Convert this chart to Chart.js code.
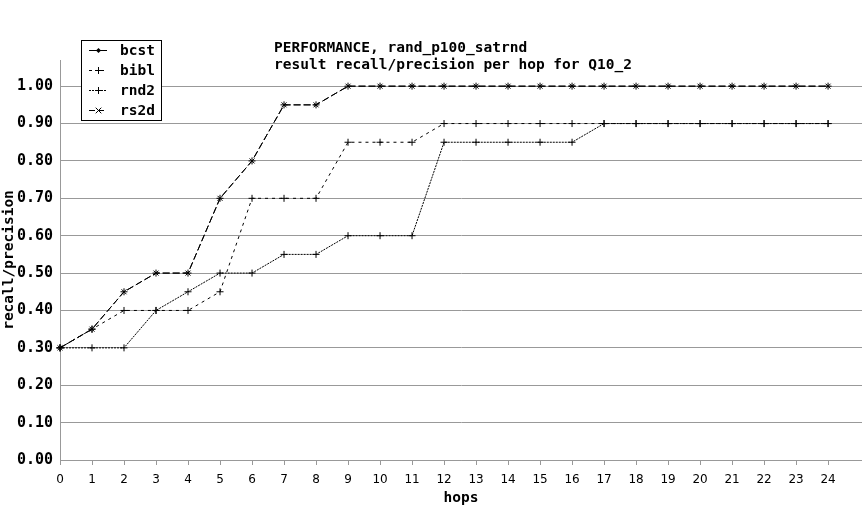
<!DOCTYPE html>
<html><head><meta charset="utf-8">
<script src="https://cdn.jsdelivr.net/npm/chart.js@4"></script>
<style>html,body{margin:0;padding:0;background:#fff}canvas{display:block}</style>
</head><body>
<canvas id="c" width="862" height="520"></canvas>
<script>
// ---- data ----
const hops = [0,1,2,3,4,5,6,7,8,9,10,11,12,13,14,15,16,17,18,19,20,21,22,23,24];
const bcst = [0.30,0.35,0.45,0.50,0.50,0.70,0.80,0.95,0.95,1.00,1.00,1.00,1.00,1.00,1.00,1.00,1.00,1.00,1.00,1.00,1.00,1.00,1.00,1.00,1.00];
const bibl = [0.30,0.35,0.40,0.40,0.40,0.45,0.70,0.70,0.70,0.85,0.85,0.85,0.90,0.90,0.90,0.90,0.90,0.90,0.90,0.90,0.90,0.90,0.90,0.90,0.90];
const rnd2 = [0.30,0.30,0.30,0.40,0.45,0.50,0.50,0.55,0.55,0.60,0.60,0.60,0.85,0.85,0.85,0.85,0.85,0.90,0.90,0.90,0.90,0.90,0.90,0.90,0.90];
const rs2d = [0.30,0.35,0.45,0.50,0.50,0.70,0.80,0.95,0.95,1.00,1.00,1.00,1.00,1.00,1.00,1.00,1.00,1.00,1.00,1.00,1.00,1.00,1.00,1.00,1.00];
const seriesNames = ['bcst','bibl','rnd2','rs2d'];
const xTickLabels = ['0','1','2','3','4','5','6','7','8','9','10','11','12','13','14','15','16','17','18','19','20','21','22','23','24'];
const yTickLabels = ['0.00','0.10','0.20','0.30','0.40','0.50','0.60','0.70','0.80','0.90','1.00'];
const titleLines = ['PERFORMANCE, rand_p100_satrnd','result recall/precision per hop for Q10_2'];
const xTitle = 'hops';
const yTitle = 'recall/precision';

// ---- styles ----
const MONO = '"DejaVu Sans Mono", monospace';
const SANS = '"DejaVu Sans", sans-serif';
const GRID = '#999999';
const seriesValues = [bcst, bibl, rnd2, rs2d];
const plotDash = [[7,3],[3,4],[2,1],[7,3]];
const plotMarker = ['cross','cross','cross','crossRot'];
const legendDash = [[],[3,3],[2,1],[6,3]];
const legendMarker = ['diamond','cross','cross','crossRot'];

const datasets = seriesNames.map((name, k) => ({
  label: name,
  data: hops.map((h, i) => ({x: h, y: seriesValues[k][i]})),
  borderColor: '#000',
  borderWidth: 1,
  borderDash: plotDash[k],
  pointStyle: plotMarker[k],
  pointRadius: 3.5,
  pointBorderColor: '#000',
  pointBackgroundColor: '#000',
  pointBorderWidth: 1,
  tension: 0,
  fill: false,
  clip: false
}));

const bgPlugin = {
  id: 'bg',
  beforeDraw(chart) {
    const ctx = chart.ctx;
    ctx.save(); ctx.fillStyle = '#fff'; ctx.fillRect(0, 0, chart.width, chart.height); ctx.restore();
  }
};

function drawMarker(ctx, type, x, y) {
  ctx.beginPath();
  if (type === 'diamond') {
    const r = 2.5;
    ctx.moveTo(x, y - r); ctx.lineTo(x + r, y); ctx.lineTo(x, y + r); ctx.lineTo(x - r, y); ctx.closePath();
    ctx.fill(); return;
  }
  const r = 3.5;
  if (type === 'cross') {
    ctx.moveTo(x - r, y); ctx.lineTo(x + r, y); ctx.moveTo(x, y - r); ctx.lineTo(x, y + r);
  } else {
    const d = r * 0.8;
    ctx.moveTo(x - d, y - d); ctx.lineTo(x + d, y + d); ctx.moveTo(x - d, y + d); ctx.lineTo(x + d, y - d);
  }
  ctx.stroke();
}

const annotPlugin = {
  id: 'annot',
  afterDraw(chart) {
    const ctx = chart.ctx;
    ctx.save();
    // title block
    ctx.fillStyle = '#000';
    ctx.font = 'bold 14.5px ' + MONO;
    ctx.textBaseline = 'alphabetic';
    ctx.textAlign = 'left';
    titleLines.forEach((t, i) => ctx.fillText(t, 274, 52 + 17 * i));
    // legend box
    const bx = 81, by = 40, bw = 80, bh = 80;
    ctx.fillStyle = '#fff';
    ctx.fillRect(bx, by, bw, bh);
    ctx.strokeStyle = '#000';
    ctx.lineWidth = 1;
    ctx.strokeRect(bx + 0.5, by + 0.5, bw, bh);
    ctx.font = 'bold 14.5px ' + MONO;
    ctx.textBaseline = 'middle';
    seriesNames.forEach((name, i) => {
      const cy = by + 10.5 + 20 * i;
      ctx.strokeStyle = '#000';
      ctx.fillStyle = '#000';
      ctx.setLineDash(legendDash[i]);
      ctx.beginPath(); ctx.moveTo(89, cy); ctx.lineTo(107, cy); ctx.stroke();
      ctx.setLineDash([]);
      drawMarker(ctx, legendMarker[i], 98.5, cy);
      ctx.fillText(name, 120, cy + 1);
    });
    ctx.restore();
  }
};

new Chart(document.getElementById('c'), {
  type: 'line',
  data: { datasets },
  options: {
    responsive: false,
    animation: false,
    events: [],
    layout: { autoPadding: false, padding: { top: 60, left: 0, right: 0, bottom: 0 } },
    plugins: { legend: { display: false }, title: { display: false }, tooltip: { enabled: false } },
    scales: {
      x: {
        type: 'linear', min: 0, max: 25.06,
        afterFit: s => { s.height = 60; s.paddingLeft = 0; s.paddingRight = 0; },
        afterBuildTicks: s => { s.ticks = s.ticks.filter(t => Number.isInteger(t.value) && t.value <= 24); },
        grid: { drawOnChartArea: false, drawTicks: true, tickLength: 5, color: GRID, lineWidth: 1 },
        border: { display: true, color: GRID, width: 1 },
        ticks: { stepSize: 1, autoSkip: false, maxRotation: 0, minRotation: 0, padding: 8, color: '#000',
                 font: { family: SANS, size: 12 },
                 callback: v => xTickLabels[v] },
        title: { display: true, text: xTitle, color: '#000', font: { family: MONO, size: 14.5, weight: 'bold' }, padding: { top: 0, bottom: 13 } }
      },
      y: {
        min: 0, max: 1.07,
        afterFit: s => { s.width = 60; s.paddingTop = 0; s.paddingBottom = 0; },
        afterBuildTicks: s => { s.ticks = s.ticks.filter(t => Math.abs(t.value * 10 - Math.round(t.value * 10)) < 1e-6 && t.value <= 1.0001); },
        grid: { drawTicks: false, color: GRID, lineWidth: 1 },
        border: { display: true, color: GRID, width: 1 },
        ticks: { stepSize: 0.1, padding: 7, color: '#000', font: { family: MONO, size: 15, weight: 'bold' },
                 callback: v => yTickLabels[Math.round(v * 10)] },
        title: { display: true, text: yTitle, color: '#000', font: { family: MONO, size: 14.5, weight: 'bold' }, padding: { top: 1, bottom: 0 } }
      }
    }
  },
  plugins: [bgPlugin, annotPlugin]
});
</script>
</body></html>
